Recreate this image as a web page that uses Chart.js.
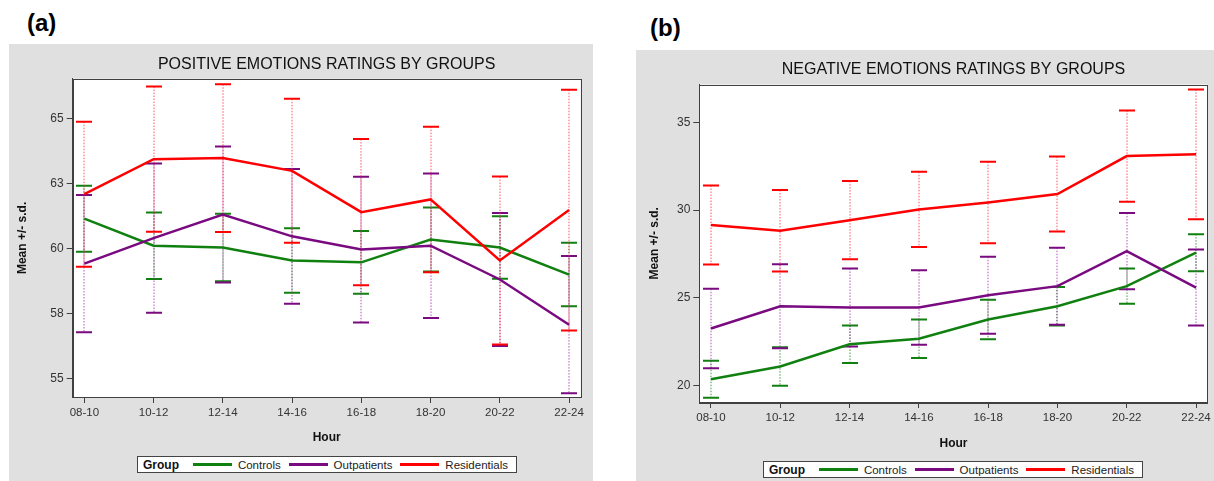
<!DOCTYPE html>
<html>
<head>
<meta charset="utf-8">
<title>Emotions ratings by groups</title>
<script src="https://cdn.jsdelivr.net/npm/chart.js@4.4.1/dist/chart.umd.min.js"></script>
<style>
  body { margin: 0; width: 1214px; height: 481px; overflow: hidden; position: relative; background: #fff;
         font-family: Arial, "Liberation Sans", sans-serif; }
  .panel { position: absolute; background: #e0e0e0; }
  .panel canvas { position: absolute; left: 0; top: 0; }
  .tag { position: absolute; font-weight: bold; font-size: 24px; color: #000; line-height: 1; }
  .legend { position: absolute; width: 380px; height: 17px; box-sizing: border-box; border: 1px solid #444;
            background: #fff; font-size: 11.5px; color: #222; display: flex; align-items: center; white-space: nowrap; }
  .legend b { margin-left: 5px; margin-right: 14px; font-size: 12px; color: #111; }
  .legend i { display: inline-block; width: 40px; height: 2.5px; margin-right: 6px; }
  .legend span { margin-right: 8px; }
</style>
</head>
<body>

<div class="tag" style="left:27px; top:11px;">(a)</div>
<div class="tag" style="left:650px; top:16px;">(b)</div>

<div class="panel" style="left:9px; top:44px; width:584px; height:437px;">
  <canvas id="posChart" width="584" height="437"></canvas>
</div>
<div class="panel" style="left:636px; top:50px; width:578px; height:431px;">
  <canvas id="negChart" width="578" height="431"></canvas>
</div>

<div class="legend" style="left:137px; top:456px;">
  <b>Group</b>
  <i style="background:#108010"></i><span>Controls</span>
  <i style="background:#7a0a80"></i><span>Outpatients</span>
  <i style="background:#ff0000"></i><span>Residentials</span>
</div>
<div class="legend" style="left:763px; top:461px;">
  <b>Group</b>
  <i style="background:#108010"></i><span>Controls</span>
  <i style="background:#7a0a80"></i><span>Outpatients</span>
  <i style="background:#ff0000"></i><span>Residentials</span>
</div>

<script>
// hour blocks on the x axis
const hours = ['08-10', '10-12', '12-14', '14-16', '16-18', '18-20', '20-22', '22-24'];

// (a) positive emotions: means and s.d. per group
const posControls = [61.14, 60.10, 60.03, 59.53, 59.46, 60.34, 60.03, 58.99];
const posControlsSd = [1.27, 1.28, 1.30, 1.24, 1.21, 1.23, 1.20, 1.22];
const posOutpatients = [59.41, 60.39, 61.30, 60.46, 59.95, 60.10, 58.80, 57.06];
const posOutpatientsSd = [2.64, 2.87, 2.62, 2.59, 2.80, 2.78, 2.56, 2.64];
const posResidentials = [62.08, 63.43, 63.47, 62.98, 61.39, 61.88, 59.53, 61.47];
const posResidentialsSd = [2.79, 2.79, 2.84, 2.77, 2.81, 2.80, 3.23, 4.63];
const posTicks = [55, 57.5, 60, 62.5, 65];

// (b) negative emotions
const negControls = [20.34, 21.07, 22.34, 22.65, 23.75, 24.51, 25.66, 27.57];
const negControlsSd = [1.06, 1.10, 1.07, 1.10, 1.13, 1.10, 1.01, 1.06];
const negOutpatients = [23.24, 24.51, 24.44, 24.44, 25.14, 25.66, 27.66, 25.58];
const negOutpatientsSd = [2.27, 2.40, 2.23, 2.13, 2.20, 2.20, 2.18, 2.17];
const negResidentials = [29.15, 28.82, 29.43, 30.04, 30.44, 30.92, 33.09, 33.19];
const negResidentialsSd = [2.26, 2.33, 2.23, 2.15, 2.33, 2.14, 2.61, 3.71];
const negTicks = [20, 25, 30, 35];

const green = '#108010';
const purple = '#7a0a80';
const red = '#ff0000';
const frameColor = '#404040';
const fontFamily = 'Arial, "Liberation Sans", sans-serif';

// white plot area + dark frame, like the SAS output
const framePlugin = {
  id: 'frame',
  beforeDraw(chart) {
    const { ctx, chartArea: a } = chart;
    ctx.save();
    ctx.fillStyle = '#fff';
    ctx.fillRect(a.left, a.top, a.right - a.left, a.bottom - a.top);
    ctx.restore();
  },
  afterDraw(chart) {
    const { ctx, chartArea: a } = chart;
    ctx.save();
    ctx.strokeStyle = frameColor;
    ctx.lineWidth = 1;
    ctx.strokeRect(Math.round(a.left) + 0.5, Math.round(a.top) + 0.5,
      Math.round(a.right - a.left), Math.round(a.bottom - a.top));
    ctx.restore();
  }
};

// mean +/- s.d. bars: faint dotted stem, solid caps
const errorBarPlugin = {
  id: 'errorBars',
  beforeDatasetsDraw(chart) {
    const ctx = chart.ctx;
    const xs = chart.scales.x, ys = chart.scales.y;
    chart.data.datasets.forEach(ds => {
      ds.data.forEach((p, i) => {
        const sd = ds.sd[i];
        const x = Math.round(xs.getPixelForValue(p.x));
        const yTop = ys.getPixelForValue(p.y + sd);
        const yBot = ys.getPixelForValue(p.y - sd);
        ctx.save();
        ctx.strokeStyle = ds.stemColor;
        ctx.lineWidth = 1;
        ctx.setLineDash([1.5, 1.5]);
        ctx.beginPath();
        ctx.moveTo(x, yTop);
        ctx.lineTo(x, yBot);
        ctx.stroke();
        ctx.setLineDash([]);
        ctx.strokeStyle = ds.borderColor;
        ctx.lineWidth = 2;
        ctx.beginPath();
        ctx.moveTo(x - 8, yTop); ctx.lineTo(x + 8, yTop);
        ctx.moveTo(x - 8, yBot); ctx.lineTo(x + 8, yBot);
        ctx.stroke();
        ctx.restore();
      });
    });
  }
};

const toPoints = arr => arr.map((v, i) => ({ x: i, y: v }));

function makeChart(id, opts) {
  const ctx = document.getElementById(id).getContext('2d');
  return new Chart(ctx, {
    type: 'line',
    data: {
      datasets: [
        { label: 'Controls', data: toPoints(opts.controls), sd: opts.controlsSd,
          borderColor: green, stemColor: 'rgba(16,128,16,0.8)', order: 2 },
        { label: 'Outpatients', data: toPoints(opts.outpatients), sd: opts.outpatientsSd,
          borderColor: purple, stemColor: 'rgba(160,40,170,0.8)', order: 1 },
        { label: 'Residentials', data: toPoints(opts.residentials), sd: opts.residentialsSd,
          borderColor: red, stemColor: 'rgba(255,40,60,0.8)', order: 0 }
      ]
    },
    options: {
      responsive: false,
      animation: false,
      events: [],
      elements: {
        line: { borderWidth: 2.5, tension: 0, fill: false },
        point: { radius: 0 }
      },
      layout: { padding: { left: 0, top: 0, right: opts.padRight, bottom: 0 } },
      plugins: {
        legend: { display: false },
        tooltip: { enabled: false },
        title: {
          display: true,
          text: opts.title,
          fullSize: false,
          color: '#111',
          font: { family: fontFamily, size: 16, weight: 'normal' },
          padding: { top: opts.titleTop, bottom: opts.titleBottom }
        }
      },
      scales: {
        x: {
          type: 'linear',
          min: -0.168,
          max: 7.168,
          afterBuildTicks: s => { s.ticks = hours.map((h, i) => ({ value: i })); },
          afterFit: s => { s.height = opts.xHeight; },
          ticks: {
            callback: v => hours[v],
            color: '#333',
            font: { family: fontFamily, size: 11.5 },
            padding: 3,
            autoSkip: false,
            maxRotation: 0
          },
          grid: { drawOnChartArea: false, drawTicks: true, tickLength: 6, color: frameColor },
          border: { display: true, color: frameColor },
          title: {
            display: true,
            text: 'Hour',
            color: '#111',
            font: { family: fontFamily, size: 12, weight: 'bold' },
            padding: { top: 0, bottom: opts.hourPad }
          }
        },
        y: {
          type: 'linear',
          min: opts.yMin,
          max: opts.yMax,
          afterBuildTicks: s => { s.ticks = opts.ticks.map(v => ({ value: v })); },
          afterFit: s => { s.width = opts.yWidth; },
          ticks: {
            callback: v => Math.round(v),
            color: '#333',
            font: { family: fontFamily, size: 12 },
            padding: 3
          },
          grid: { drawOnChartArea: false, drawTicks: true, tickLength: 6, color: frameColor },
          border: { display: true, color: frameColor },
          title: {
            display: true,
            text: 'Mean +/- s.d.',
            color: '#111',
            font: { family: fontFamily, size: 12, weight: 'bold' },
            padding: { top: opts.meanPad, bottom: 0 }
          }
        }
      }
    },
    plugins: [framePlugin, errorBarPlugin]
  });
}

makeChart('posChart', {
  title: 'POSITIVE EMOTIONS RATINGS BY GROUPS',
  controls: posControls, controlsSd: posControlsSd,
  outpatients: posOutpatients, outpatientsSd: posOutpatientsSd,
  residentials: posResidentials, residentialsSd: posResidentialsSd,
  ticks: posTicks, yMin: 54.28, yMax: 66.52,
  padRight: 12.3, yWidth: 63.7, xHeight: 84,
  titleTop: 11, titleBottom: 4.6, hourPad: 35.8, meanPad: 6.8
});

makeChart('negChart', {
  title: 'NEGATIVE EMOTIONS RATINGS BY GROUPS',
  controls: negControls, controlsSd: negControlsSd,
  outpatients: negOutpatients, outpatientsSd: negOutpatientsSd,
  residentials: negResidentials, residentialsSd: negResidentialsSd,
  ticks: negTicks, yMin: 19.04, yMax: 37.18,
  padRight: 6.3, yWidth: 63.3, xHeight: 79,
  titleTop: 9.5, titleBottom: 5.8, hourPad: 29.8, meanPad: 11.8
});
</script>
</body>
</html>
